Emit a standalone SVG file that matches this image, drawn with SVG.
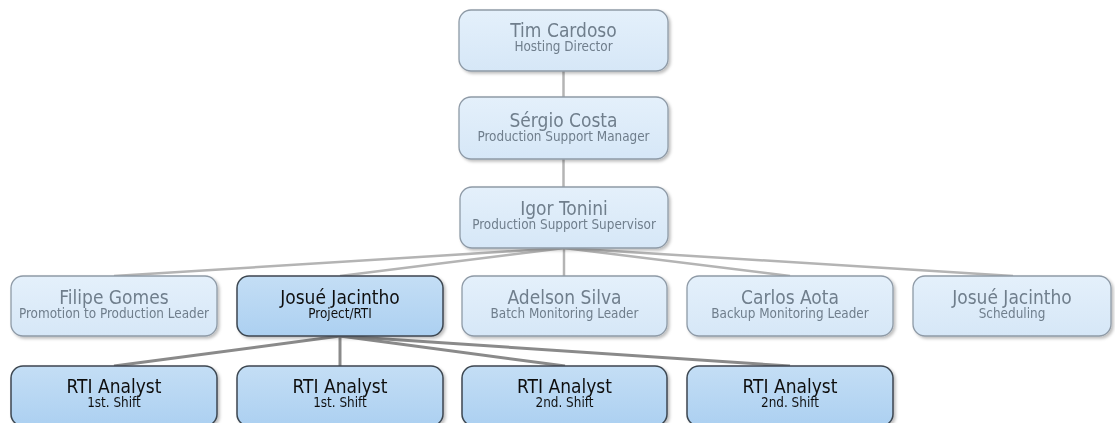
<svg xmlns="http://www.w3.org/2000/svg" width="1115" height="423" viewBox="0 0 1115 423">
<style>
.lt{fill:url(#gl);stroke:#8e9aa6;stroke-width:1.3}
.dk{fill:url(#gd);stroke:#3c4650;stroke-width:1.5}
.t{font-family:"DejaVu Sans Condensed","DejaVu Sans",sans-serif;text-anchor:middle}
.tl{font-size:19px;fill:#6f7e8c}
.sl{font-size:13.4px;fill:#6f7e8c}
.td{font-size:19px;fill:#111}
.sd{font-size:13.4px;fill:#111}
.c1{stroke:#b4b4b4;stroke-width:2.5;fill:none}
.c2{stroke:#8a8a8a;stroke-width:3;fill:none}
</style>
<defs>
<linearGradient id="gl" x1="0" y1="0" x2="0" y2="1"><stop offset="0" stop-color="#e4f0fb"/><stop offset="1" stop-color="#d6e7f7"/></linearGradient>
<linearGradient id="gd" x1="0" y1="0" x2="0" y2="1"><stop offset="0" stop-color="#c4def5"/><stop offset="1" stop-color="#acd0f1"/></linearGradient>
<filter id="sh" x="-10%" y="-10%" width="125%" height="130%"><feDropShadow dx="2" dy="2" stdDeviation="1.5" flood-color="#000" flood-opacity="0.25"/></filter>
</defs>
<rect width="1115" height="423" fill="#fff"/>
<g id="connectors">
<line class="c1" x1="563.5" y1="71" x2="563.5" y2="97"/>
<line class="c1" x1="563.5" y1="159" x2="563.5" y2="187"/>
<line class="c1" x1="564" y1="248" x2="114" y2="276"/>
<line class="c1" x1="564" y1="248" x2="340" y2="276"/>
<line class="c1" x1="564" y1="248" x2="564" y2="276"/>
<line class="c1" x1="564" y1="248" x2="790" y2="276"/>
<line class="c1" x1="564" y1="248" x2="1013" y2="276"/>
<line class="c2" x1="340" y1="336" x2="114" y2="366"/>
<line class="c2" x1="340" y1="336" x2="340" y2="366"/>
<line class="c2" x1="340" y1="336" x2="565" y2="366"/>
<line class="c2" x1="340" y1="336" x2="790" y2="366"/>
</g>
<g id="tim" filter="url(#sh)"><rect class="lt" x="459" y="10" width="209" height="61" rx="12"/><text class="t tl" x="563.5" y="37">Tim Cardoso</text><text class="t sl" x="563.5" y="51">Hosting Director</text></g>
<g id="sergio" filter="url(#sh)"><rect class="lt" x="459" y="97" width="209" height="62" rx="12"/><text class="t tl" x="563.5" y="127">Sérgio Costa</text><text class="t sl" x="563.5" y="141">Production Support Manager</text></g>
<g id="igor" filter="url(#sh)"><rect class="lt" x="460" y="187" width="208" height="61" rx="12"/><text class="t tl" x="564" y="215">Igor Tonini</text><text class="t sl" x="564" y="229">Production Support Supervisor</text></g>
<g id="filipe" filter="url(#sh)"><rect class="lt" x="11" y="276" width="206" height="60" rx="12"/><text class="t tl" x="114" y="304">Filipe Gomes</text><text class="t sl" x="114" y="318">Promotion to Production Leader</text></g>
<g id="josue-rti" filter="url(#sh)"><rect class="dk" x="237" y="276" width="206" height="60" rx="12"/><text class="t td" x="340" y="304">Josué Jacintho</text><text class="t sd" x="340" y="318">Project/RTI</text></g>
<g id="adelson" filter="url(#sh)"><rect class="lt" x="462" y="276" width="205" height="60" rx="12"/><text class="t tl" x="564.5" y="304">Adelson Silva</text><text class="t sl" x="564.5" y="318">Batch Monitoring Leader</text></g>
<g id="carlos" filter="url(#sh)"><rect class="lt" x="687" y="276" width="206" height="60" rx="12"/><text class="t tl" x="790" y="304">Carlos Aota</text><text class="t sl" x="790" y="318">Backup Monitoring Leader</text></g>
<g id="josue-sched" filter="url(#sh)"><rect class="lt" x="913" y="276" width="198" height="60" rx="12"/><text class="t tl" x="1012" y="304">Josué Jacintho</text><text class="t sl" x="1012" y="318">Scheduling</text></g>
<g id="rti1" filter="url(#sh)"><rect class="dk" x="11" y="366" width="206" height="60" rx="12"/><text class="t td" x="114" y="393">RTI Analyst</text><text class="t sd" x="114" y="407">1st. Shift</text></g>
<g id="rti2" filter="url(#sh)"><rect class="dk" x="237" y="366" width="206" height="60" rx="12"/><text class="t td" x="340" y="393">RTI Analyst</text><text class="t sd" x="340" y="407">1st. Shift</text></g>
<g id="rti3" filter="url(#sh)"><rect class="dk" x="462" y="366" width="205" height="60" rx="12"/><text class="t td" x="564.5" y="393">RTI Analyst</text><text class="t sd" x="564.5" y="407">2nd. Shift</text></g>
<g id="rti4" filter="url(#sh)"><rect class="dk" x="687" y="366" width="206" height="60" rx="12"/><text class="t td" x="790" y="393">RTI Analyst</text><text class="t sd" x="790" y="407">2nd. Shift</text></g>
</svg>
